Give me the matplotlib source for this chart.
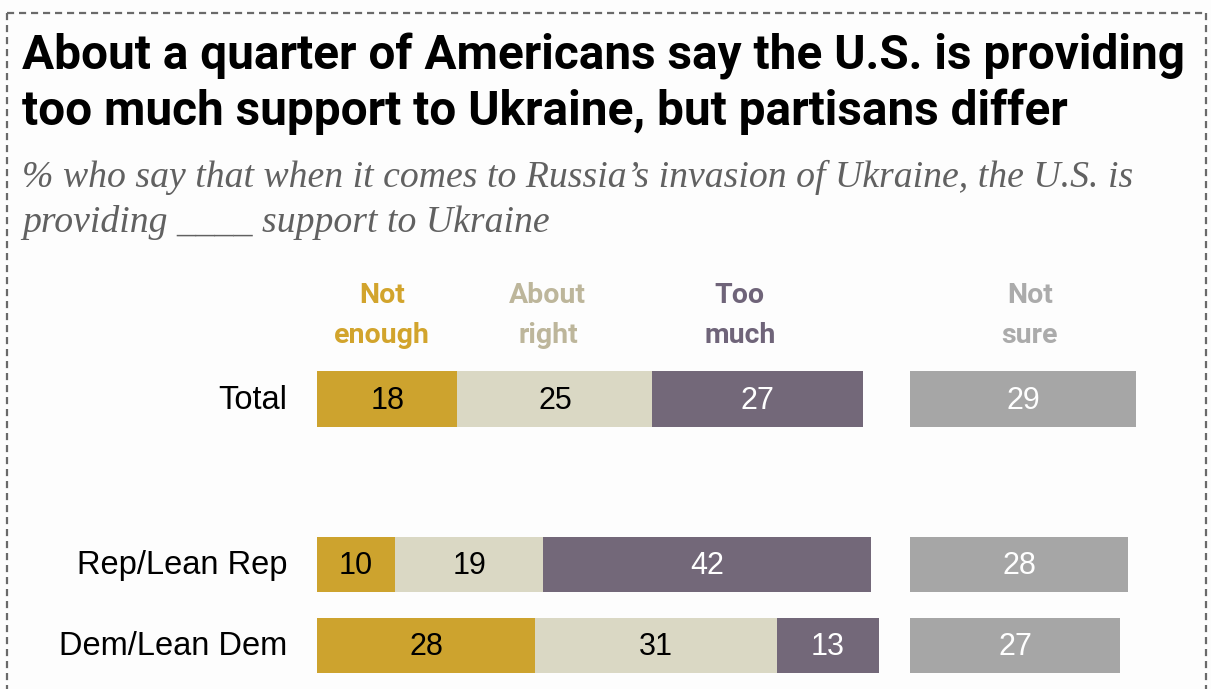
import matplotlib.pyplot as plt
from matplotlib.lines import Line2D
import numpy as np

# Survey responses (%)
groups = ['Total', 'Rep/Lean Rep', 'Dem/Lean Dem']
answers = ['Not\nenough', 'About\nright', 'Too\nmuch', 'Not\nsure']
not_enough = [18, 10, 28]
about_right = [25, 19, 31]
too_much = [27, 42, 13]
not_sure = [29, 28, 27]

bar_colors = ['#CDA32E', '#DAD8C4', '#736879', '#A6A6A6']
head_colors = ['#D2A42C', '#BDB69B', '#6F6479', '#ABABAB']
value_colors = ['black', 'black', 'white', 'white']

W, H = 1211, 689
fig = plt.figure(figsize=(W / 100, H / 100), dpi=100)
fig.patch.set_facecolor('#FDFDFD')


def px(x, y):
    return x / W, 1 - y / H


def fit(t, width):
    r = fig.canvas.get_renderer()
    w = t.get_window_extent(r).width
    t.set_fontsize(t.get_fontsize() * width / w)
    return t.get_fontsize()


# dashed frame
dash = dict(color='#6A6A6A', lw=1.6, ls=(0, (3.2, 2.2)), transform=fig.transFigure)
fig.add_artist(Line2D([px(7, 0)[0], px(1206, 0)[0]], [px(0, 13)[1]] * 2, **dash))
fig.add_artist(Line2D([px(7, 0)[0]] * 2, [px(0, 13)[1], 0], **dash))
fig.add_artist(Line2D([px(1206, 0)[0]] * 2, [px(0, 13)[1], 0], **dash))

title_font = ['Roboto', 'DejaVu Sans']
t1 = fig.text(*px(22, 70), 'About a quarter of Americans say the U.S. is providing',
              fontsize=30, fontweight='bold', family=title_font, va='baseline')
size = fit(t1, 1161)
fig.text(*px(22, 125), 'too much support to Ukraine, but partisans differ',
         fontsize=size, fontweight='bold', family=title_font, va='baseline')

sub_font = ['Liberation Serif', 'DejaVu Serif']
s1 = fig.text(*px(22, 187),
              '% who say that when it comes to Russia\u2019s invasion of Ukraine, the U.S. is',
              fontsize=20, style='italic', family=sub_font, color='#616161', va='baseline')
size = fit(s1, 1111)
fig.text(*px(22, 232), 'providing ____ support to Ukraine', fontsize=size,
         style='italic', family=sub_font, color='#616161', va='baseline')

# bar area: x in percent, 7.8 px per point, y rows 81 px apart
x0, scale = 317, 7.8
top, row_px, first_row = 255, 81, 399
ax = fig.add_axes([x0 / W, 0, (W - x0) / W, 1 - top / H])
ax.set_xlim(0, (W - x0) / scale)
ax.set_ylim((H - first_row) / row_px, -(first_row - top) / row_px)
ax.axis('off')

ypos = np.array([0, 2.04, 3.04])
height = 0.68
sure_start = 76
label_font = ['Liberation Sans', 'DejaVu Sans']

series = [not_enough, about_right, too_much]
left = np.zeros(len(groups))
for i, vals in enumerate(series):
    vals = np.array(vals)
    ax.barh(ypos, vals, left=left, height=height, color=bar_colors[i], edgecolor='none')
    for y, l, v in zip(ypos, left, vals):
        ax.text(l + v / 2, y + 0.02, str(v), ha='center', va='center',
                fontsize=22, color=value_colors[i], family=label_font)
    left += vals

ax.barh(ypos, not_sure, left=sure_start, height=height, color=bar_colors[3], edgecolor='none')
for y, v in zip(ypos, not_sure):
    ax.text(sure_start + v / 2, y + 0.02, str(v), ha='center', va='center',
            fontsize=22, color='white', family=label_font)

# row labels
for y, g in zip(ypos, groups):
    ax.text(-3.8, y + 0.02, g, ha='right', va='center', fontsize=23.5,
            color='black', family=label_font)

# column headers
head_x = [8.3, 29.6, 54.2, 91.4]
for x, a, c in zip(head_x, answers, head_colors):
    ax.text(x, -1.03, a, ha='center', va='center', fontsize=20.5, fontweight='bold',
            color=c, family=title_font, linespacing=1.6)

fig.savefig('out.png', dpi=100, facecolor=fig.get_facecolor())
